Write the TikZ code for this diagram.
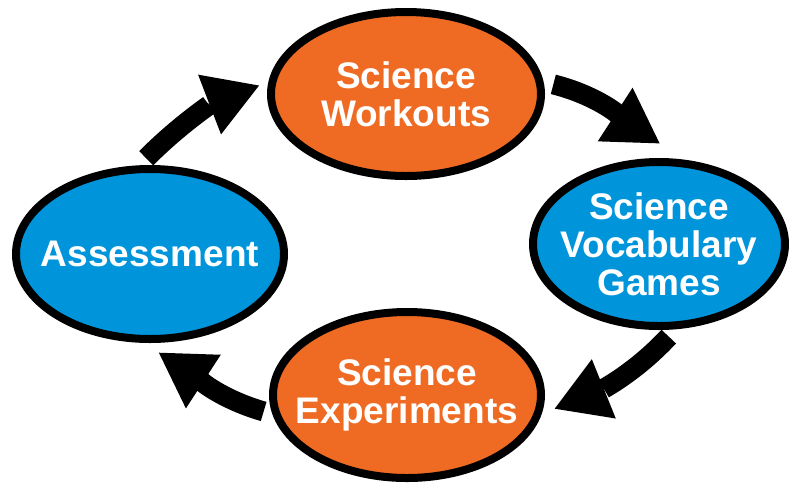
\documentclass[tikz,border=0pt]{standalone}
\usepackage{fontspec}
\setmainfont{Liberation Sans}
\usetikzlibrary{shapes, arrows.meta}
\definecolor{hotorange}{RGB}{239,107,35}
\definecolor{coolblue}{RGB}{0,149,218}

\begin{document}
\begin{tikzpicture}[main/.style = {draw, ellipse, line width=8pt, inner sep=-30pt, align=center, text=white, font=\fontsize{37}{38}\selectfont\bfseries}, hot/.style = {main, fill=hotorange}, cool/.style = {main, fill=coolblue}, bigarrow/.style = {line width=20pt, -{Triangle[length=53pt, width=64pt, line width=0pt]}}]
    \useasboundingbox (0pt,0pt) rectangle (789pt,-483pt);

    \node[hot, minimum width=270pt, minimum height=164pt] (work) at (406pt,-94pt) {Science\\Workouts};
    \node[cool, minimum width=268pt, minimum height=170pt] (assess) at (150pt,-254pt) {Assessment};
    \node[cool, minimum width=252pt, minimum height=164pt] (voc) at (659pt,-244pt) {Science\\Vocabulary\\Games};
    \node[hot, minimum width=268pt, minimum height=166pt] (exp) at (407pt,-395pt) {Science\\Experiments};

    \draw[bigarrow, shorten <=10pt, shorten >=10pt] (assess.97) to[out=45, in=201] (work.175);
    \draw[bigarrow, shorten <=10pt, shorten >=30pt] (work.5) to[out=-14, in=147] (voc.73);
    \draw[bigarrow, shorten <=10pt, shorten >=14pt] (voc.-79) to[out=227, in=22] (exp.-8);
    \draw[bigarrow, shorten <=9pt, shorten >=18pt] (exp.188) to[out=164, in=-33] (assess.-94);
\end{tikzpicture}
\end{document}
